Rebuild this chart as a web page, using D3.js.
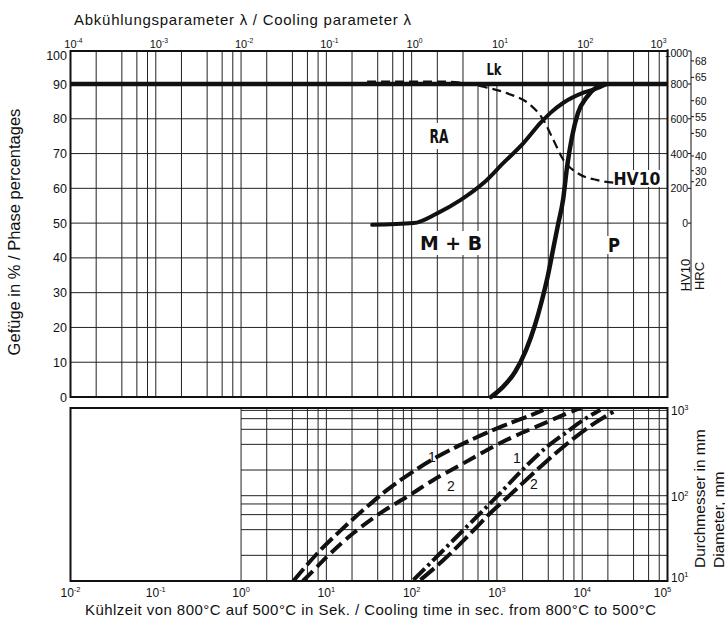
<!DOCTYPE html>
<html>
<head>
<meta charset="utf-8">
<script src="https://cdn.jsdelivr.net/npm/d3@7"></script>
<style>
    body { margin: 0; background: #fff; }
    text { font-family: "Liberation Sans", Arial, sans-serif; fill: #111; }
    .lbl { font-family: "Liberation Sans Narrow", "DejaVu Sans Condensed", sans-serif; font-weight: bold; }
</style>
</head>
<body>
<div id="chart"></div>
<script>
// phase diagram values (time in s, phase in %, hardness in HV, diameter in mm)
var pctTicks = [0, 10, 20, 30, 40, 50, 60, 70, 80, 90, 100];
var lambdaExp = [-4, -3, -2, -1, 0, 1, 2, 3];
var timeExp = [-2, -1, 0, 1, 2, 3, 4, 5];
var diaExp = [1, 2, 3];
var hvTicks = [0, 200, 400, 600, 800, 1000];
var hrcTicks = [68, 65, 60, 55, 50, 40, 30, 20];
var hrcAsHV = [940, 840, 704, 612, 516, 386, 301, 238];

var lkLine = [0.01, 100000];
var lkPct = 90;

var hvTime = [30, 218, 450, 695, 1330, 2470, 3510, 4590, 6020, 8790, 15080, 25900];
var hvValue = [815, 815, 803, 784, 746, 679, 593, 478, 363, 288, 247, 230];

var mbTime = [34.5, 105, 199, 373, 695, 1192, 2045, 3240, 4240, 6020, 10330, 15080, 19720];
var mbPct = [49.5, 50, 52.8, 56.6, 61.5, 67.3, 73.0, 78.8, 81.7, 84.6, 87.5, 88.8, 90];

var pTime = [851, 1177, 1629, 2193, 2795, 3378, 3972, 4543, 5200, 5954, 6637, 7593, 8925, 11380, 14900, 17990];
var pPct = [0, 2.9, 7.2, 13.5, 20.7, 27.9, 35.1, 42.3, 49.5, 56.6, 66.1, 74.8, 81.7, 86.3, 89.2, 90];

// diameter curves, 1 = upper, 2 = lower
var dashTime1 = [4.1, 8.5, 15.8, 30, 51.6, 96.8, 218, 448, 1005, 2260, 3510];
var dashDia1 = [10, 23, 41.8, 74.3, 117, 183, 300, 430, 617, 844, 1010];
var dashTime2 = [5.3, 5.96, 10.2, 20.8, 43, 88.5, 180, 373, 767, 1560, 3240, 6650, 10300];
var dashDia2 = [10, 11.2, 19.3, 36.5, 62.6, 97.3, 153, 229, 344, 492, 675, 925, 1100];
var dotTime1 = [105, 218, 405, 695, 1100, 1890, 3870, 6650, 10300, 16300];
var dotDia1 = [10.3, 21.3, 39.6, 67.9, 108, 191, 375, 562, 771, 1010];
var dotTime2 = [127, 236, 448, 839, 1560, 3240, 6020, 11400, 23200];
var dotDia2 = [10.3, 17.6, 33, 62.6, 111, 219, 375, 617, 966];

var gridMult = [1, 2, 4, 6, 8];

var width = 725,
    height = 624,
    left = 70.5,
    right = 667.5,
    top1 = 51,
    bot1 = 397,
    top2 = 408,
    bot2 = 581;

var svg = d3.select('#chart')
    .append('svg')
    .attr('width', width)
    .attr('height', height);

var x = d3.scaleLog().domain([1e-2, 1e5]).range([left, right]);
var y = d3.scaleLinear().domain([0, 90, 100]).range([bot1, 84, top1]);
var yd = d3.scaleLog().domain([10, 1000]).range([bot2, 410.4]);
var hvToPct = hv => 50 + hv / 20;

function pow10(sel, e) {
    sel.append('tspan').text('10');
    sel.append('tspan').attr('dy', -5).attr('font-size', '0.62em').text(e);
}

// grid values
var gridT = [];
timeExp.forEach(e => {
    gridMult.forEach(m => {
        var v = m * Math.pow(10, e);
        if (v <= 1e5) gridT.push(v);
    });
});

// ---------- top panel
var g1 = svg.append('g');
g1.selectAll('.vgrid')
    .data(gridT)
    .enter()
    .append('line')
    .attr('x1', d => x(d)).attr('x2', d => x(d))
    .attr('y1', top1).attr('y2', bot1)
    .attr('stroke', '#222').attr('stroke-width', 1);
g1.selectAll('.hgrid')
    .data(pctTicks)
    .enter()
    .append('line')
    .attr('x1', left).attr('x2', right)
    .attr('y1', d => y(d)).attr('y2', d => y(d))
    .attr('stroke', '#222').attr('stroke-width', 1);

// white boxes behind labels
var boxes = [[467, 52, 41, 30], [422, 123, 38, 26], [417, 231, 68, 24], [605, 236, 18, 18], [611, 170, 52, 17]];
g1.selectAll('.box')
    .data(boxes)
    .enter()
    .append('rect')
    .attr('x', d => d[0]).attr('y', d => d[1])
    .attr('width', d => d[2]).attr('height', d => d[3])
    .attr('fill', '#fff');

g1.append('rect')
    .attr('x', left).attr('y', top1)
    .attr('width', right - left).attr('height', bot1 - top1)
    .attr('fill', 'none').attr('stroke', '#111').attr('stroke-width', 2);

var line = d3.line().curve(d3.curveMonotoneX);

g1.append('path')
    .attr('d', line(lkLine.map(t => [x(t), y(lkPct)])))
    .attr('fill', 'none').attr('stroke', '#111').attr('stroke-width', 4.5);

g1.append('path')
    .attr('d', line(hvTime.map((t, i) => [x(t), y(hvToPct(hvValue[i]))])))
    .attr('fill', 'none').attr('stroke', '#111').attr('stroke-width', 2.2)
    .attr('stroke-dasharray', '9,5');

g1.append('path')
    .attr('d', line(mbTime.map((t, i) => [x(t), y(mbPct[i])])))
    .attr('fill', 'none').attr('stroke', '#111').attr('stroke-width', 4)
    .attr('stroke-linecap', 'round');

g1.append('path')
    .attr('d', line(pTime.map((t, i) => [x(t), y(pPct[i])])))
    .attr('fill', 'none').attr('stroke', '#111').attr('stroke-width', 4.5)
    .attr('stroke-linecap', 'round');

// phase labels
var labels = [['Lk', 494, 75, 15, 16], ['RA', 439, 143, 19, 20], ['M + B', 451, 250, 62, 20], ['P', 614, 252, 12, 20], ['HV10', 637, 185, 47, 17]];
g1.selectAll('.lbl')
    .data(labels)
    .enter()
    .append('text')
    .attr('class', 'lbl')
    .attr('x', d => d[1]).attr('y', d => d[2])
    .attr('text-anchor', 'middle')
    .attr('font-size', d => d[4])
    .attr('textLength', d => d[3])
    .attr('lengthAdjust', 'spacingAndGlyphs')
    .text(d => d[0]);

// left axis
g1.selectAll('.ylab')
    .data(pctTicks)
    .enter()
    .append('text')
    .attr('x', 67)
    .attr('y', d => d == 100 ? y(d) + 9 : y(d) + 4.5)
    .attr('text-anchor', 'end')
    .attr('font-size', 12.5)
    .text(d => d);

// top axis (cooling parameter)
g1.selectAll('.tlab')
    .data(lambdaExp)
    .enter()
    .append('text')
    .attr('x', d => d == 3 ? x(100 * Math.pow(10, d)) - 9 : x(100 * Math.pow(10, d)) + 3)
    .attr('y', 48)
    .attr('text-anchor', 'middle')
    .attr('font-size', 11)
    .each(function(d) { pow10(d3.select(this), d); });

// right hardness axes
var axX = 691;
g1.append('line')
    .attr('x1', axX).attr('x2', axX)
    .attr('y1', y(100)).attr('y2', 291)
    .attr('stroke', '#111').attr('stroke-width', 1);
g1.selectAll('.hvtick')
    .data(hvTicks)
    .enter()
    .append('line')
    .attr('x1', axX - 3).attr('x2', axX)
    .attr('y1', d => y(hvToPct(d))).attr('y2', d => y(hvToPct(d)))
    .attr('stroke', '#111');
g1.selectAll('.hvlab')
    .data(hvTicks)
    .enter()
    .append('text')
    .attr('x', axX - 3)
    .attr('y', d => y(hvToPct(d)) + (d == 1000 ? 6 : 4))
    .attr('text-anchor', 'end')
    .attr('font-size', 10.5)
    .text(d => d);
g1.selectAll('.hrctick')
    .data(hrcTicks)
    .enter()
    .append('line')
    .attr('x1', axX).attr('x2', axX + 3)
    .attr('y1', (d, i) => y(hvToPct(hrcAsHV[i]))).attr('y2', (d, i) => y(hvToPct(hrcAsHV[i])))
    .attr('stroke', '#111');
g1.selectAll('.hrclab')
    .data(hrcTicks)
    .enter()
    .append('text')
    .attr('x', axX + 4)
    .attr('y', (d, i) => y(hvToPct(hrcAsHV[i])) + 4)
    .attr('font-size', 10.5)
    .text(d => d);
g1.append('text')
    .attr('transform', 'translate(690,275) rotate(-90)')
    .attr('text-anchor', 'middle')
    .attr('font-size', 13)
    .text('HV10');
g1.append('text')
    .attr('transform', 'translate(704,276) rotate(-90)')
    .attr('text-anchor', 'middle')
    .attr('font-size', 13)
    .text('HRC');

// ---------- lower panel
var g2 = svg.append('g');
g2.append('clipPath').attr('id', 'clip2')
    .append('rect')
    .attr('x', left).attr('y', top2)
    .attr('width', right - left).attr('height', bot2 - top2);

var gridT2 = gridT.filter(d => d >= 1);
var gridD = [];
diaExp.forEach(e => {
    gridMult.forEach(m => {
        var v = m * Math.pow(10, e);
        if (v >= 20 && v <= 1000) gridD.push(v);
    });
});

g2.selectAll('.vgrid2')
    .data(gridT2)
    .enter()
    .append('line')
    .attr('x1', d => x(d)).attr('x2', d => x(d))
    .attr('y1', top2).attr('y2', bot2)
    .attr('stroke', '#222').attr('stroke-width', 1);
g2.selectAll('.hgrid2')
    .data(gridD)
    .enter()
    .append('line')
    .attr('x1', x(1)).attr('x2', right)
    .attr('y1', d => yd(d)).attr('y2', d => yd(d))
    .attr('stroke', '#222').attr('stroke-width', 1);
g2.append('rect')
    .attr('x', left).attr('y', top2)
    .attr('width', right - left).attr('height', bot2 - top2)
    .attr('fill', 'none').attr('stroke', '#111').attr('stroke-width', 2);

var curves = [
    [dashTime1, dashDia1, '16,5'],
    [dashTime2, dashDia2, '14,6'],
    [dotTime1, dotDia1, '16,4,3,4'],
    [dotTime2, dotDia2, '18,5']
];
g2.selectAll('.dcurve')
    .data(curves)
    .enter()
    .append('path')
    .attr('clip-path', 'url(#clip2)')
    .attr('d', d => line(d[0].map((t, i) => [x(t), yd(d[1][i])])))
    .attr('fill', 'none').attr('stroke', '#111').attr('stroke-width', 4)
    .attr('stroke-dasharray', d => d[2]);

var numLabels = [['1', 432, 462], ['2', 451, 491], ['1', 517, 463], ['2', 534, 489]];
g2.selectAll('.num')
    .data(numLabels)
    .enter()
    .append('text')
    .attr('x', d => d[1]).attr('y', d => d[2])
    .attr('text-anchor', 'middle')
    .attr('font-size', 14)
    .text(d => d[0]);

// bottom axis
g2.selectAll('.blab')
    .data(timeExp)
    .enter()
    .append('text')
    .attr('x', d => d == 5 ? x(Math.pow(10, d)) - 5 : x(Math.pow(10, d)))
    .attr('y', 597)
    .attr('text-anchor', 'middle')
    .attr('font-size', 12)
    .each(function(d) { pow10(d3.select(this), d); });

// diameter axis
g2.selectAll('.dlab')
    .data(diaExp)
    .enter()
    .append('text')
    .attr('x', 671)
    .attr('y', d => yd(Math.pow(10, d)) + (d == 1 ? 1 : 5))
    .attr('font-size', 12)
    .each(function(d) { pow10(d3.select(this), d); });

// titles
svg.append('text')
    .attr('x', 74).attr('y', 25)
    .attr('font-size', 15)
    .attr('textLength', 337)
    .text('Abkühlungsparameter λ / Cooling parameter λ');
svg.append('text')
    .attr('x', 85).attr('y', 615)
    .attr('font-size', 15)
    .attr('textLength', 571)
    .text('Kühlzeit von 800°C auf 500°C in Sek. / Cooling time in sec. from 800°C to 500°C');
svg.append('text')
    .attr('transform', 'translate(20,232) rotate(-90)')
    .attr('text-anchor', 'middle')
    .attr('font-size', 16.5)
    .text('Gefüge in % / Phase percentages');
svg.append('text')
    .attr('transform', 'translate(705,568) rotate(-90)')
    .attr('font-size', 15.5)
    .text('Durchmesser in mm');
svg.append('text')
    .attr('transform', 'translate(724,568) rotate(-90)')
    .attr('font-size', 15.5)
    .text('Diameter, mm');
</script>
</body>
</html>
